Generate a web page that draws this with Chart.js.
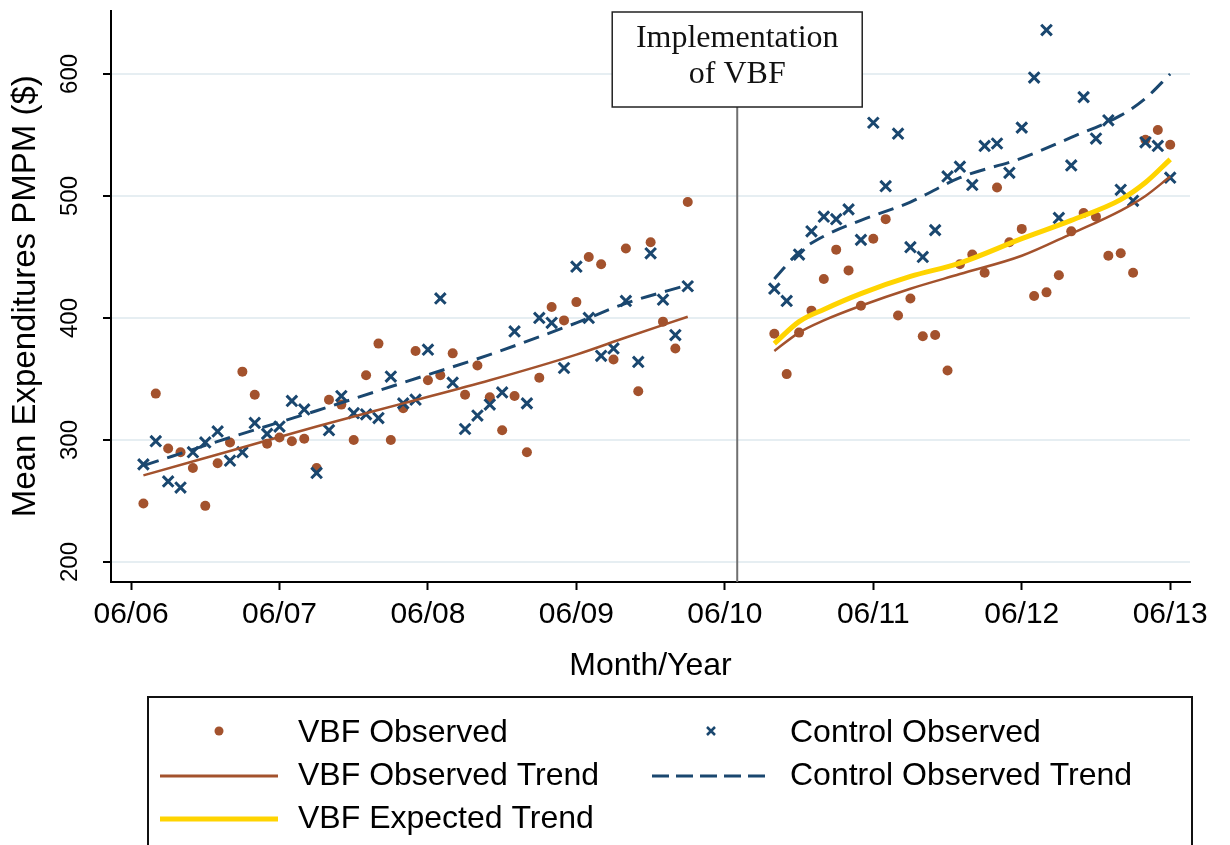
<!DOCTYPE html>
<html>
<head>
<meta charset="utf-8">
<script src="https://cdn.jsdelivr.net/npm/chart.js@4/dist/chart.umd.min.js"></script>
<style>
html,body{margin:0;padding:0;background:#ffffff;}
#wrap{width:1230px;height:845px;position:relative;overflow:hidden;}
</style>
</head>
<body>
<div id="wrap"><canvas id="c" width="1230" height="845"></canvas></div>
<script>
// ---- data (months since June 2006) ----
const preMonths = [1,2,3,4,5,6,7,8,9,10,11,12,13,14,15,16,17,18,19,20,21,22,23,24,25,26,27,28,29,30,31,32,33,34,35,36,37,38,39,40,41,42,43,44,45];
const postMonths = [52,53,54,55,56,57,58,59,60,61,62,63,64,65,66,67,68,69,70,71,72,73,74,75,76,77,78,79,80,81,82,83,84];

const vbfObsPre = [248,338,293,290,277,246,281,298,356,337,297,302,299,301,277,333,329,300,353,379,300,326,373,349,353,371,337,361,335,308,336,290,351,409,398,413,450,444,366,457,340,462,397,375,495];
const vbfObsPost = [387,354,388,406,432,456,439,410,465,481,402,416,385,386,357,444,452,437,507,462,473,418,421,435,471,486,483,451,453,437,546,554,542];

const ctlObsPre = [280,299,266,261,290,298,307,283,290,314,305,311,332,325,273,308,336,322,321,318,352,330,333,374,416,347,309,320,329,339,389,330,400,396,359,442,400,369,375,414,364,453,415,386,426];
const ctlObsPost = [424,414,452,471,483,481,489,464,560,508,551,458,450,472,516,524,509,541,543,519,556,597,636,482,525,581,547,562,505,496,544,541,515];

const trendPreMonths = [1,8,15,22,29,36,40,45];
const vbfTrendPre = [271,291,311,330,349,370,384,401];
const ctlTrendPre = [279,302,324,347,370,396,412,427];

const trendPostMonths = [52,54,56,59,63,67,72,76,80,82,84];
const vbfTrendPost = [373,388,398,410,424,436,451,469,488,500,516];
const vbfExpTrendPost = [379,397,407,420,434,445,465,480,497,511,530];
const ctlTrendPost = [432,454,467,480,495,515,531,548,566,580,600];

const gapMonth = 48;
const implMonth = 49;
const implLabel = ["Implementation", "of VBF"];

const xTickMonths = [0,12,24,36,48,60,72,84];
const xTickLabels = ["06/06","06/07","06/08","06/09","06/10","06/11","06/12","06/13"];
const yTickValues = [200,300,400,500,600];

const legendLabels = ["VBF Observed","Control Observed","VBF Observed Trend","Control Observed Trend","VBF Expected Trend"];

// ---- styles ----
const BROWN = '#A3522D';
const NAVY = '#1A476F';
const GOLD = '#FFD400';
const GRID = '#E6EEF2';
const SANS = '"Liberation Sans", Arial, Helvetica, sans-serif';
const SERIF = '"Liberation Serif", "Times New Roman", serif';

function pts(xs, ys){ return xs.map((x,i)=>({x:x, y:ys[i]})); }
const gap = [{x:gapMonth, y:null}];

const data = {
  datasets: [
    { label: legendLabels[4], data: pts(trendPostMonths, vbfExpTrendPost), showLine:true,
      borderColor: GOLD, borderWidth: 5, pointRadius: 0, cubicInterpolationMode:'monotone', tension:0.4, order:1 },
    { label: legendLabels[2], data: pts(trendPreMonths, vbfTrendPre).concat(gap, pts(trendPostMonths, vbfTrendPost)), showLine:true,
      borderColor: BROWN, borderWidth: 2.5, pointRadius: 0, cubicInterpolationMode:'monotone', tension:0.4, spanGaps:false, order:2 },
    { label: legendLabels[3], data: pts(trendPreMonths, ctlTrendPre).concat(gap, pts(trendPostMonths, ctlTrendPost)), showLine:true,
      borderColor: NAVY, borderWidth: 3, borderDash:[16,9], pointRadius: 0, cubicInterpolationMode:'monotone', tension:0.4, spanGaps:false, order:3 },
    { label: legendLabels[1], data: pts(preMonths, ctlObsPre).concat(pts(postMonths, ctlObsPost)), showLine:false,
      pointStyle:'crossRot', pointRadius: 7.5, borderColor: NAVY, pointBorderWidth: 3, backgroundColor: NAVY, order:4 },
    { label: legendLabels[0], data: pts(preMonths, vbfObsPre).concat(pts(postMonths, vbfObsPost)), showLine:false,
      pointStyle:'circle', pointRadius: 5, pointBorderWidth: 0, borderColor: BROWN, backgroundColor: BROWN, order:5 }
  ]
};

const implPlugin = {
  id: 'impl',
  beforeDatasetsDraw(chart){
    const ctx = chart.ctx, x = chart.scales.x.getPixelForValue(implMonth);
    ctx.save();
    ctx.strokeStyle = '#707070'; ctx.lineWidth = 2;
    ctx.beginPath(); ctx.moveTo(x, 100); ctx.lineTo(x, chart.chartArea.bottom); ctx.stroke();
    ctx.restore();
  },
  afterDraw(chart){
    const ctx = chart.ctx, x = chart.scales.x.getPixelForValue(implMonth);
    const w = 250, top = 12, h = 95;
    ctx.save();
    ctx.fillStyle = '#fff'; ctx.fillRect(x - w/2, top, w, h);
    ctx.strokeStyle = '#222'; ctx.lineWidth = 1.5; ctx.strokeRect(x - w/2, top, w, h);
    ctx.fillStyle = '#111'; ctx.font = '32px ' + SERIF; ctx.textAlign = 'center'; ctx.textBaseline = 'alphabetic';
    ctx.fillText(implLabel[0], x, 47);
    ctx.fillText(implLabel[1], x, 83);
    ctx.restore();
  }
};

const legendPlugin = {
  id: 'boxLegend',
  afterDraw(chart){
    const ctx = chart.ctx;
    ctx.save();
    ctx.strokeStyle = '#111'; ctx.lineWidth = 2;
    ctx.strokeRect(148, 697, 1044, 170);
    const rows = [733, 776, 819];
    const c1 = 298, c2 = 790;
    ctx.font = '32px ' + SANS; ctx.fillStyle = '#000'; ctx.textBaseline = 'middle'; ctx.textAlign = 'left';
    // row 1
    ctx.fillStyle = BROWN; ctx.beginPath(); ctx.arc(219, rows[0]-2, 4.5, 0, Math.PI*2); ctx.fill();
    ctx.strokeStyle = NAVY; ctx.lineWidth = 2.5; ctx.beginPath();
    ctx.moveTo(707, rows[0]-6); ctx.lineTo(715, rows[0]+2); ctx.moveTo(715, rows[0]-6); ctx.lineTo(707, rows[0]+2); ctx.stroke();
    // row 2
    ctx.strokeStyle = BROWN; ctx.lineWidth = 3; ctx.beginPath(); ctx.moveTo(160, rows[1]); ctx.lineTo(278, rows[1]); ctx.stroke();
    ctx.strokeStyle = NAVY; ctx.setLineDash([17,7]); ctx.beginPath(); ctx.moveTo(652, rows[1]); ctx.lineTo(770, rows[1]); ctx.stroke();
    ctx.setLineDash([]);
    // row 3
    ctx.strokeStyle = GOLD; ctx.lineWidth = 5; ctx.beginPath(); ctx.moveTo(160, rows[2]); ctx.lineTo(278, rows[2]); ctx.stroke();
    ctx.fillStyle = '#000';
    ctx.fillText(legendLabels[0], c1, rows[0]);
    ctx.fillText(legendLabels[1], c2, rows[0]);
    ctx.fillText(legendLabels[2], c1, rows[1]);
    ctx.fillText(legendLabels[3], c2, rows[1]);
    ctx.fillText(legendLabels[4], c1, rows[2]);
    ctx.restore();
  }
};

new Chart(document.getElementById('c'), {
  type: 'scatter',
  data: data,
  options: {
    responsive: false,
    animation: false,
    devicePixelRatio: 1,
    layout: { padding: { left: 0, top: 10, right: 40, bottom: 143 } },
    plugins: { legend: { display: false }, tooltip: { enabled: false } },
    scales: {
      x: {
        type: 'linear', min: -1.62, max: 85.6,
        afterBuildTicks(scale){ scale.ticks = xTickMonths.map(v => ({ value: v })); },
        afterFit(scale){ scale.height = 120; scale.paddingLeft = 0; scale.paddingRight = 0; },
        ticks: { callback: (v, i) => xTickLabels[xTickMonths.indexOf(v)], color: '#000', font: { family: SANS, size: 30 }, padding: 7, maxRotation: 0, autoSkip: false },
        grid: { drawOnChartArea: false, drawTicks: true, tickLength: 8, tickColor: '#000', tickWidth: 2 },
        border: { display: true, color: '#000', width: 2 },
        title: { display: true, text: 'Month/Year', color: '#000', font: { family: SANS, size: 32 }, padding: { top: 0, bottom: 17 } }
      },
      y: {
        type: 'linear', min: 183.6, max: 652,
        afterBuildTicks(scale){ scale.ticks = yTickValues.map(v => ({ value: v })); },
        afterFit(scale){ scale.width = 111; scale.paddingTop = 0; scale.paddingBottom = 0; },
        ticks: { callback: v => String(v), color: '#000', font: { family: SANS, size: 24 }, padding: 13, minRotation: 90, maxRotation: 90, crossAlign: 'center', autoSkip: false },
        grid: { color: GRID, lineWidth: 2, drawTicks: true, tickLength: 8, tickColor: '#000', tickWidth: 2 },
        border: { display: true, color: '#000', width: 2 },
        title: { display: true, text: 'Mean Expenditures PMPM ($)', color: '#000', font: { family: SANS, size: 33 }, padding: { top: 6, bottom: 0 } }
      }
    }
  },
  plugins: [implPlugin, legendPlugin]
});
</script>
</body>
</html>
